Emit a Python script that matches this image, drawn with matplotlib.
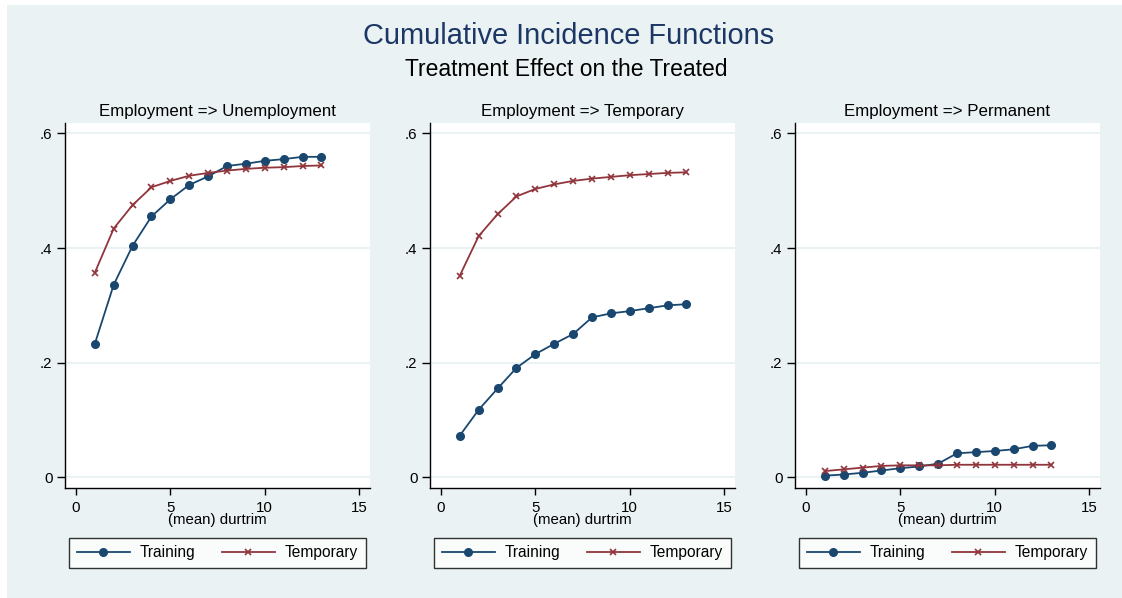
import matplotlib
matplotlib.use("Agg")
import matplotlib.pyplot as plt
from matplotlib.patches import Rectangle

plt.rcParams['font.family'] = ['Liberation Sans', 'DejaVu Sans']

durtrim = [1, 2, 3, 4, 5, 6, 7, 8, 9, 10, 11, 12, 13]

panel_titles = ["Employment => Unemployment",
                "Employment => Temporary",
                "Employment => Permanent"]

# Training series per panel
train_unemp = [0.233, 0.336, 0.404, 0.455, 0.485, 0.510, 0.525,
               0.543, 0.547, 0.552, 0.555, 0.559, 0.559]
train_temp = [0.073, 0.118, 0.155, 0.191, 0.215, 0.233, 0.250,
              0.279, 0.286, 0.290, 0.295, 0.300, 0.302]
train_perm = [0.003, 0.005, 0.008, 0.012, 0.016, 0.019, 0.024,
              0.042, 0.044, 0.046, 0.049, 0.055, 0.056]

# Temporary series per panel
temp_unemp = [0.357, 0.434, 0.475, 0.506, 0.517, 0.526, 0.531,
              0.535, 0.538, 0.540, 0.541, 0.543, 0.544]
temp_temp = [0.352, 0.421, 0.459, 0.490, 0.503, 0.511, 0.517,
             0.521, 0.524, 0.527, 0.529, 0.531, 0.532]
temp_perm = [0.011, 0.014, 0.017, 0.020, 0.021, 0.021, 0.021,
             0.022, 0.022, 0.022, 0.022, 0.022, 0.022]

training = [train_unemp, train_temp, train_perm]
temporary = [temp_unemp, temp_temp, temp_perm]

yticks = [0, 0.2, 0.4, 0.6]
ytick_labels = ["0", ".2", ".4", ".6"]
xticks = [0, 5, 10, 15]

navy = "#1A476F"
maroon = "#90353B"
bg = "#EAF2F3"

W, H = 1122, 598
fig = plt.figure(figsize=(W / 100, H / 100), dpi=100)
fig.patch.set_facecolor("white")
# bluish graph region
fig.add_artist(Rectangle((7 / W, 0), 1 - 7 / W, 1 - 5 / H, transform=fig.transFigure,
                         facecolor=bg, edgecolor="none", zorder=0))

fig.text(569 / W, 1 - 36 / H, "Cumulative Incidence Functions", ha="center", va="center",
         fontsize=20.9, color="#1C3766")
fig.text(566 / W, 1 - 69 / H, "Treatment Effect on the Treated", ha="center", va="center",
         fontsize=16.5, color="black")

lefts = [65, 430, 795]
top, bottom = 123, 487.7
pw = 305

for i in range(3):
    ax = fig.add_axes([lefts[i] / W, 1 - bottom / H, pw / W, (bottom - top) / H])
    ax.set_facecolor("white")
    for y in yticks:
        ax.axhline(y, color=bg, lw=1.5, zorder=1)
    ax.plot(durtrim, training[i], color=navy, marker="o", markersize=5.5, lw=1.3,
            label="Training", zorder=3)
    ax.plot(durtrim, temporary[i], color=maroon, marker="x", markersize=4.5, mew=1.2, lw=1.3,
            label="Temporary", zorder=3)
    ax.set_xlim(-0.58, 15.57)
    ax.set_ylim(-0.018, 0.618)
    ax.set_yticks(yticks)
    ax.set_yticklabels(ytick_labels)
    ax.set_xticks(xticks)
    ax.spines["top"].set_visible(False)
    ax.spines["right"].set_visible(False)
    ax.spines["left"].set_linewidth(1.0)
    ax.spines["bottom"].set_linewidth(1.0)
    ax.tick_params(axis="y", direction="out", length=6, width=1, labelsize=10.8, pad=3)
    ax.tick_params(axis="x", direction="out", length=5, width=1, labelsize=10.8, pad=4.5)
    ax.set_title(panel_titles[i], fontsize=12.2, pad=5)
    ax.set_xlabel("(mean) durtrim", fontsize=10.8, labelpad=-1.5)
    leg = ax.legend(loc="upper center", bbox_to_anchor=(0.5, -0.137), ncol=2, frameon=True,
                    fancybox=False, edgecolor="black", fontsize=11.2, handlelength=3.4,
                    columnspacing=1.7, borderpad=0.48, handletextpad=0.65, borderaxespad=0)
    leg.get_frame().set_linewidth(1.0)

fig.savefig("out.png", dpi=100, facecolor=fig.get_facecolor())
